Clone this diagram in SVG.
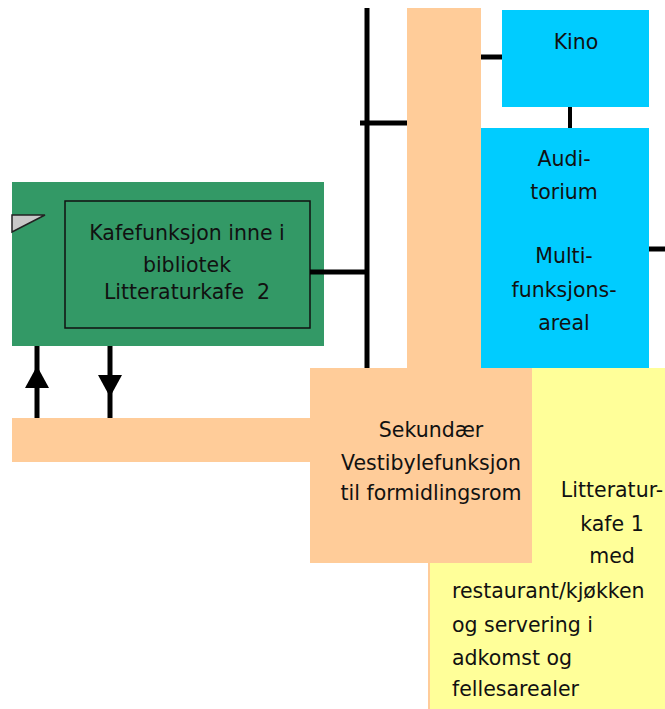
<svg xmlns="http://www.w3.org/2000/svg" width="665" height="709" viewBox="0 0 665 709">
<style>
text{font-family:"DejaVu Sans","Liberation Sans",sans-serif;font-size:20.5px;fill:#111;}
.c{text-anchor:middle;}
.ln{stroke:#000;stroke-width:5;fill:none;}
</style>
<rect width="665" height="709" fill="#fff"/>
<g id="peach-corridor">
<rect x="407" y="8" width="74" height="362" fill="#FFCC99"/>
</g>
<g id="yellow-litteraturkafe1">
<rect x="428" y="368" width="237" height="341" fill="#FFFF99"/>
<rect x="428" y="563" width="2" height="146" fill="#FFCC99"/>
<text class="c" x="612" y="497">Litteratur-</text>
<text class="c" x="612" y="531">kafe 1</text>
<text class="c" x="612" y="563">med</text>
<text x="452" y="598">restaurant/kjøkken</text>
<text x="452" y="632">og servering i</text>
<text x="452" y="665">adkomst og</text>
<text x="452" y="696">fellesarealer</text>
</g>
<g id="sekundaer-vestibyle">
<rect x="12" y="418" width="300" height="44" fill="#FFCC99"/>
<rect x="310" y="368" width="222" height="195" fill="#FFCC99"/>
<text class="c" x="431" y="437">Sekundær</text>
<text class="c" x="431" y="470">Vestibylefunksjon</text>
<text class="c" x="431" y="500">til formidlingsrom</text>
</g>
<g id="kino">
<rect x="502" y="10" width="147" height="97" fill="#00CCFF"/>
<text class="c" x="576" y="49">Kino</text>
</g>
<g id="auditorium">
<rect x="481" y="128" width="168" height="240" fill="#00CCFF"/>
<text class="c" x="564" y="166">Audi-</text>
<text class="c" x="564" y="199">torium</text>
<text class="c" x="564" y="263">Multi-</text>
<text class="c" x="564" y="297">funksjons-</text>
<text class="c" x="564" y="330">areal</text>
</g>
<g id="kafefunksjon">
<rect x="12" y="182" width="312" height="164" fill="#339966"/>
<polygon points="12,215 45,215 12,232" fill="#c8c8c8" stroke="#222" stroke-width="1.5"/>
<rect x="65" y="201" width="245" height="127" fill="none" stroke="#111" stroke-width="1.5"/>
<text class="c" x="187" y="240">Kafefunksjon inne i</text>
<text class="c" x="187" y="272">bibliotek</text>
<text class="c" x="187" y="299">Litteraturkafe &#160;2</text>
</g>
<g id="connectors">
<line class="ln" x1="367" y1="8" x2="367" y2="368"/>
<line class="ln" x1="360" y1="123" x2="407" y2="123"/>
<line class="ln" x1="310" y1="272" x2="367" y2="272"/>
<line class="ln" x1="481" y1="57" x2="502" y2="57"/>
<line x1="570" y1="107" x2="570" y2="128" stroke="#000" stroke-width="4"/>
<line class="ln" x1="649" y1="249" x2="665" y2="249"/>
<line class="ln" x1="37" y1="418" x2="37" y2="346"/>
<path d="M37,366 L49,388 L25,388 z" fill="#000"/>
<line class="ln" x1="110" y1="346" x2="110" y2="418"/>
<path d="M110,397 L122,375 L98,375 z" fill="#000"/>
</g>
</svg>
